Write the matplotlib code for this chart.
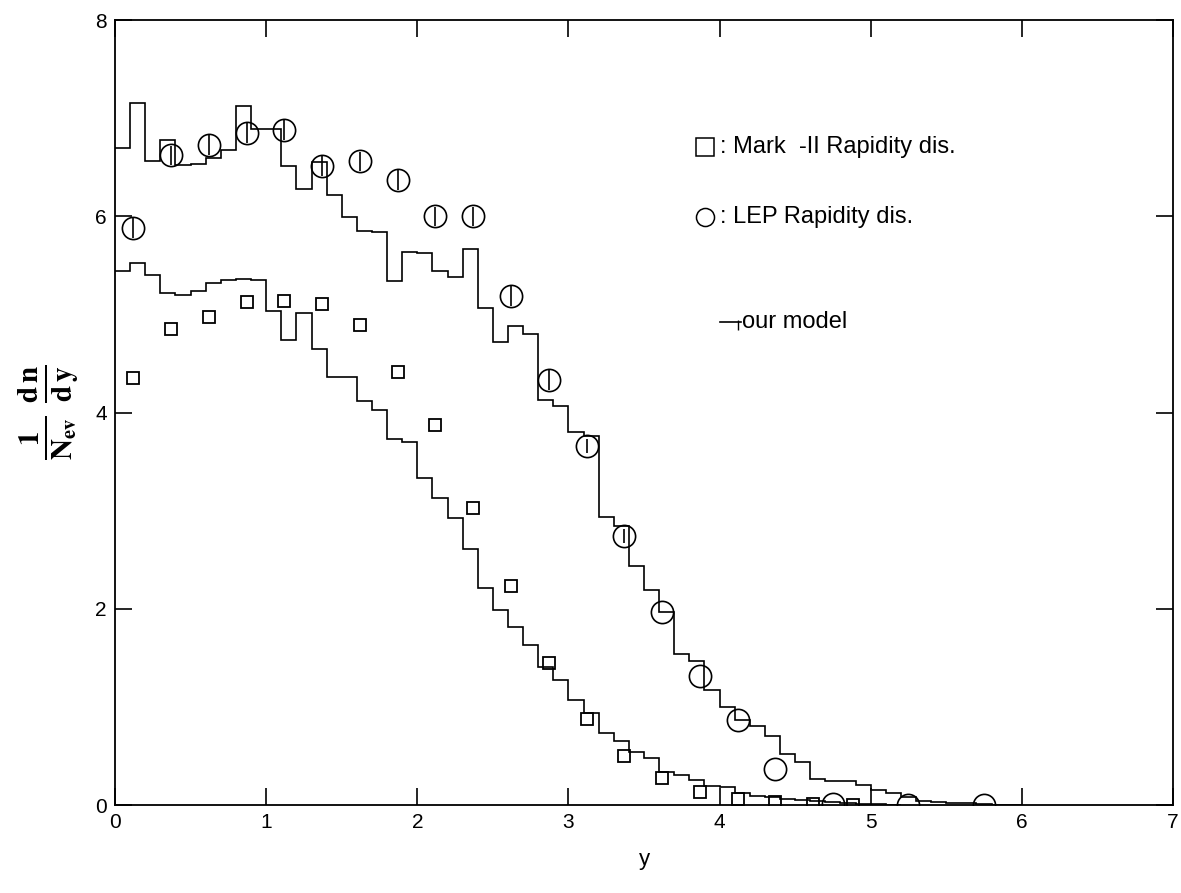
import numpy as np
import matplotlib
matplotlib.use('Agg')
import matplotlib.pyplot as plt

# histogram "our model", bins 0.1 wide starting at y = 0
bin_width = 0.1
lep_model = [6.70, 7.16, 6.56, 6.78, 6.52, 6.53, 6.59, 6.68, 7.12, 6.89,
             6.89, 6.51, 6.28, 6.55, 6.22, 5.99, 5.85, 5.84, 5.34, 5.64,
             5.63, 5.44, 5.38, 5.67, 5.07, 4.72, 4.88, 4.80, 4.13, 4.07,
             3.80, 3.76, 2.94, 2.84, 2.44, 2.19, 1.97, 1.54, 1.47, 1.17,
             1.00, 0.87, 0.81, 0.70, 0.52, 0.44, 0.27, 0.25, 0.25, 0.20,
             0.15, 0.12, 0.085, 0.045, 0.035, 0.025, 0.02, 0.01, 0.005, 0.003]
mark2_model = [5.44, 5.52, 5.40, 5.22, 5.20, 5.24, 5.32, 5.35, 5.36, 5.35,
               5.04, 4.74, 5.01, 4.65, 4.36, 4.36, 4.12, 4.03, 3.73, 3.70,
               3.33, 3.13, 2.93, 2.61, 2.21, 1.99, 1.81, 1.63, 1.41, 1.27,
               1.07, 0.94, 0.73, 0.65, 0.54, 0.48, 0.34, 0.31, 0.26, 0.19,
               0.18, 0.12, 0.09, 0.08, 0.06, 0.05, 0.04, 0.03, 0.02, 0.015,
               0.01, 0.005]

# Mark-II data (squares)
mark2_y = [0.12, 0.37, 0.62, 0.87, 1.12, 1.37, 1.62, 1.87, 2.12, 2.37,
           2.62, 2.87, 3.12, 3.37, 3.62, 3.87, 4.12, 4.37, 4.62, 4.88]
mark2_dn = [4.35, 4.85, 4.97, 5.13, 5.14, 5.11, 4.89, 4.41, 3.87, 3.03,
            2.23, 1.45, 0.88, 0.50, 0.28, 0.13, 0.06, 0.03, 0.01, 0.0]

# LEP data (circles)
lep_y = [0.12, 0.37, 0.62, 0.87, 1.12, 1.37, 1.62, 1.87, 2.12, 2.37,
         2.62, 2.87, 3.12, 3.37, 3.62, 3.87, 4.12, 4.37, 4.75, 5.25, 5.75]
lep_dn = [5.88, 6.62, 6.73, 6.85, 6.88, 6.51, 6.56, 6.37, 6.00, 6.00,
          5.19, 4.33, 3.66, 2.74, 1.97, 1.32, 0.87, 0.37, 0.01, 0.0, 0.0]
lep_err = [0.1, 0.1, 0.1, 0.1, 0.1, 0.1, 0.1, 0.1, 0.1, 0.1,
           0.1, 0.1, 0.07, 0.07, 0.0, 0.0, 0.0, 0.0, 0.0, 0.0, 0.0]

plt.rcParams['font.family'] = ['Liberation Sans', 'DejaVu Sans']
plt.rcParams['mathtext.fontset'] = 'stix'

fig = plt.figure(figsize=(11.81, 8.93), dpi=100)
ax = fig.add_axes([0.0974, 0.0985, 0.8958, 0.879])

edges1 = np.arange(len(lep_model) + 1) * bin_width
edges2 = np.arange(len(mark2_model) + 1) * bin_width
ax.stairs(lep_model, edges1, color='black', lw=1.2, baseline=None)
ax.stairs(mark2_model, edges2, color='black', lw=1.2, baseline=None)

ax.plot(mark2_y, mark2_dn, 's', ms=8.5, mfc='none', mec='black', mew=1.3)
ax.errorbar(lep_y, lep_dn, yerr=lep_err, fmt='o', ms=16, mfc='none',
            mec='black', mew=1.2, ecolor='black', elinewidth=1.2, capsize=0)

ax.set_xlim(0, 7)
ax.set_ylim(0, 8)
ax.set_xticks(range(0, 8))
ax.set_yticks([0, 2, 4, 6, 8])
ax.tick_params(direction='in', length=12, width=1.2, top=True, right=True,
               labelsize=15, pad=6)
for s in ax.spines.values():
    s.set_linewidth(1.3)

ax.set_xlabel('y', fontsize=16, labelpad=12)
ax.set_ylabel(r'$\mathbf{\frac{1}{N_{ev}}\ \frac{d\,n}{d\,y}}$', fontsize=30,
              labelpad=10)

# legend drawn by hand like in the original
ax.plot([0.558], [0.838], 's', ms=13, mfc='none', mec='black', mew=1.1,
        transform=ax.transAxes)
ax.text(0.572, 0.838, ': Mark  -II Rapidity dis.', fontsize=17,
        transform=ax.transAxes, va='center')
ax.plot([0.558], [0.749], 'o', ms=13, mfc='none', mec='black', mew=1.1,
        transform=ax.transAxes)
ax.text(0.572, 0.749, ': LEP Rapidity dis.', fontsize=17,
        transform=ax.transAxes, va='center')
ax.plot([0.572, 0.592], [0.615, 0.615], color='black', lw=1.2,
        transform=ax.transAxes)
ax.plot([0.589], [0.612], marker='|', ms=7, color='black',
        transform=ax.transAxes)
ax.text(0.593, 0.615, 'our model', fontsize=17,
        transform=ax.transAxes, va='center')

fig.savefig('out.png', dpi=100)
